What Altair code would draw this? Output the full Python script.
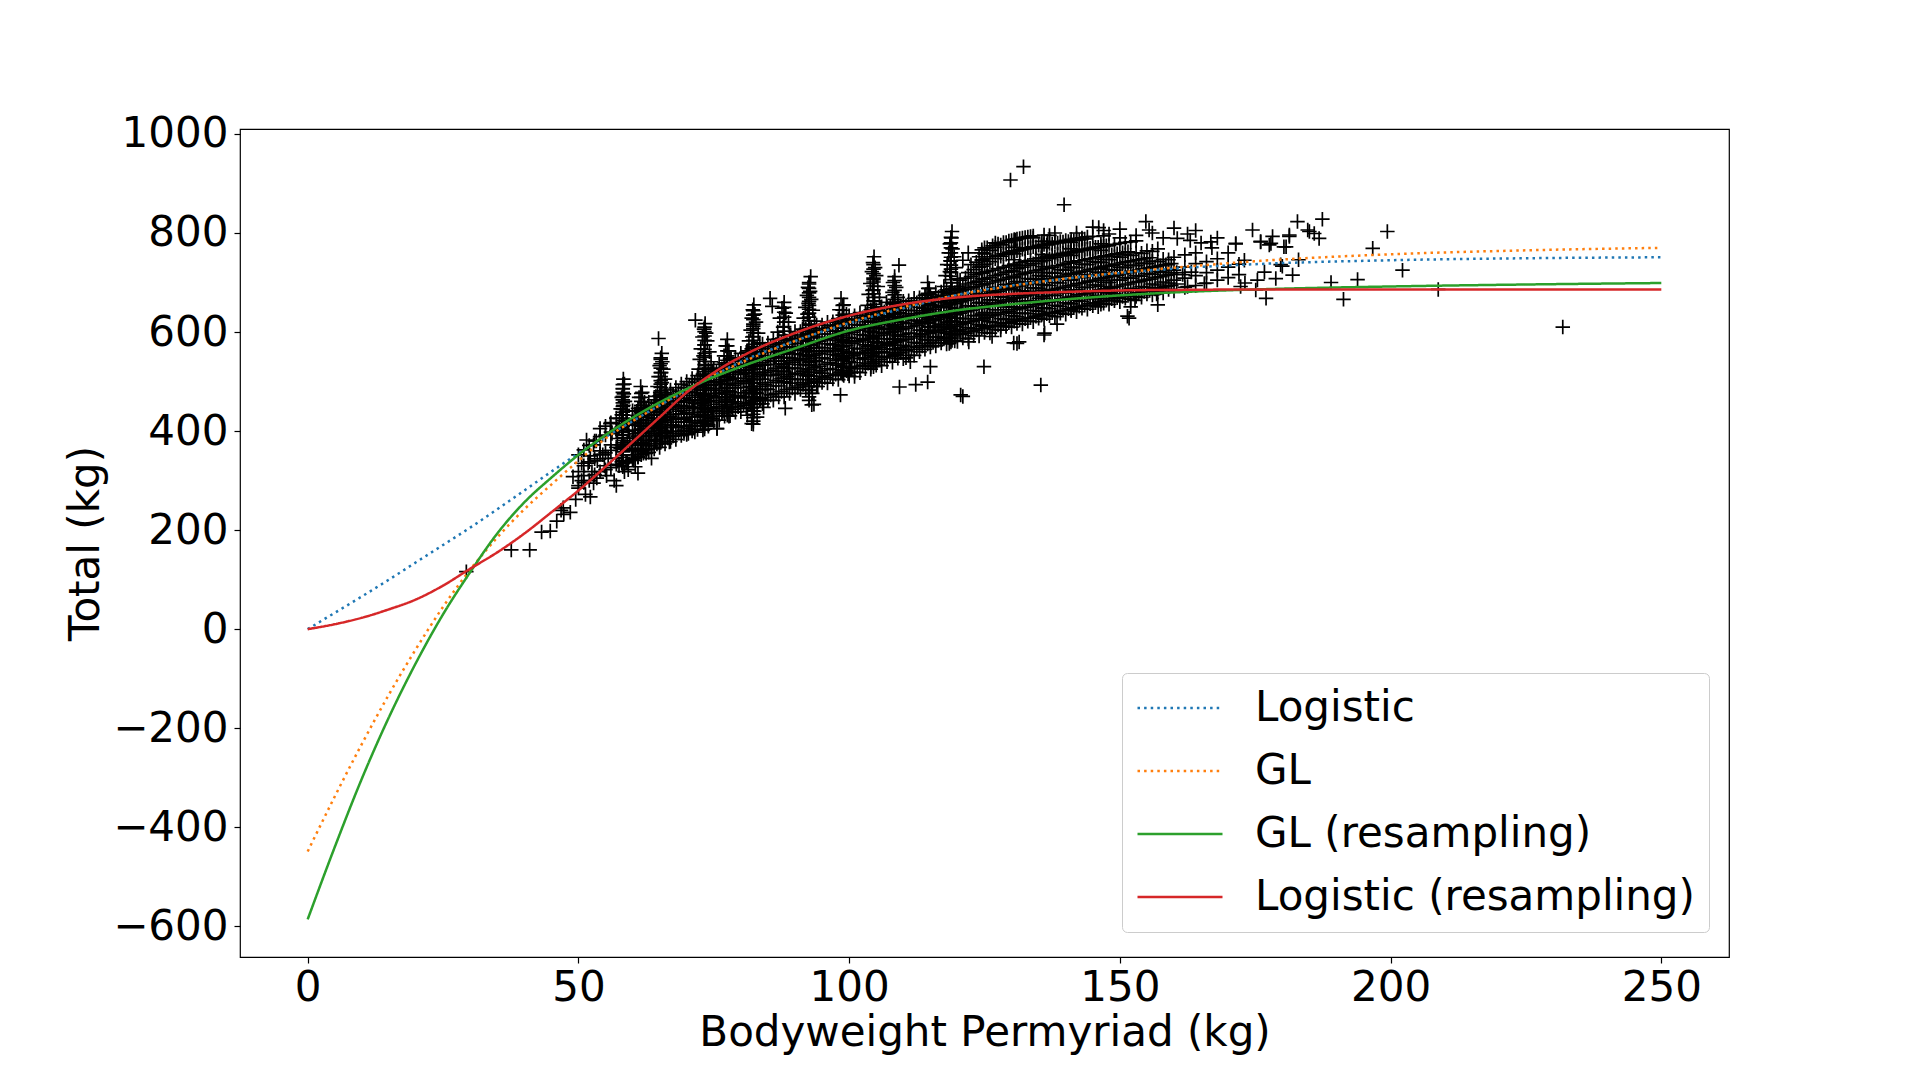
import altair as alt
import pandas as pd

# ---------------- fitted curves ----------------
CURVE_X = [0, 5, 10, 15, 20, 25, 30, 35, 40, 45, 50, 55, 60, 65, 70, 75, 80,
           90, 100, 110, 120, 130, 140, 150, 160, 175, 200, 225, 250]
LOGISTIC = [0, 33, 66, 100, 135, 170, 205, 242, 280, 318, 355, 388, 420, 452, 482, 512, 540,
            582, 618, 648, 675, 694, 708, 719, 728, 737, 745, 749, 751]
GL = [-449, -338, -232, -132, -40, 45, 120, 185, 242, 292, 340, 385, 420, 452, 484, 513, 538,
      582, 620, 650, 675, 693, 708, 720, 730, 743, 757, 765, 770]
GL_RES = [-586, -440, -302, -178, -68, 30, 115, 193, 256, 306, 352, 392, 427, 458, 485, 509, 530,
          567, 603, 626, 644, 656, 666, 674, 680, 686, 692, 696, 699]
LOG_RES = [0, 10, 23, 40, 60, 88, 122, 155, 193, 236, 280, 328, 378, 428, 478, 518, 550,
           598, 633, 656, 670, 677, 681, 684, 685, 686, 686, 686, 686]

SERIES = ["Logistic", "GL", "GL (resampling)", "Logistic (resampling)"]
COLORS = ["#1f77b4", "#ff7f0e", "#2ca02c", "#d62728"]
DASHES = [[2.5, 4.1], [2.5, 4.1], [1, 0], [1, 0]]

# ---------------- scatter points (bodyweight, total) ----------------
LOW_TAIL = [(29.3, 116), (37.6, 160), (41.0, 160), (43.2, 196), (44.8, 198), (46.0, 218),
            (46.8, 240), (47.3, 232), (48.5, 236), (47.2, 245), (49.5, 262), (50.0, 290),
            (50.6, 300), (51.0, 310), (51.3, 272), (52.2, 267), (51.8, 335), (52.2, 350),
            (52.5, 318), (52.8, 295), (53.4, 305), (49.0, 308), (52.8, 372), (53.3, 380),
            (53.5, 340), (54.0, 360), (54.5, 352), (54.8, 330), (55.2, 310), (55.5, 345),
            (56.0, 372), (56.2, 395), (55.9, 415), (51.5, 382), (50.6, 335), (56.6, 300),
            (57.0, 290), (60.2, 341), (62.0, 362)]
SPIKE_58 = [(58.3, 505), (58.5, 495), (58.2, 485), (58.4, 475), (58.0, 468), (58.6, 460),
            (58.3, 452), (57.8, 445), (58.8, 440), (58.2, 432), (57.6, 425), (59.0, 420),
            (58.4, 412), (57.5, 405), (59.2, 400), (58.1, 392), (57.2, 385), (59.5, 380),
            (58.6, 372), (57.8, 365), (59.8, 360), (58.2, 352), (57.0, 345), (60.2, 345),
            (58.8, 338), (57.5, 330), (60.5, 328), (59.2, 322), (61.0, 315), (58.5, 318)]
SPIKE_62 = [(61.5, 490), (61.8, 478), (61.2, 468), (62.2, 458), (61.6, 448), (60.8, 440),
            (62.6, 432), (61.4, 422), (60.4, 412), (62.9, 405), (61.2, 395), (60.1, 385),
            (63.2, 380), (61.7, 372), (60.0, 365), (62.5, 355), (61.0, 348), (63.5, 345)]
SPIKE_65 = [(64.8, 587), (65.4, 557), (65.2, 548), (65.5, 540), (65.0, 532), (65.7, 525),
            (65.3, 518), (64.8, 510), (66.0, 505), (65.4, 498), (64.6, 490), (66.2, 485),
            (65.1, 478), (64.3, 470), (66.5, 466), (65.5, 458), (64.2, 450), (66.8, 447),
            (65.0, 440), (64.0, 432), (67.0, 430), (65.6, 422), (63.8, 415), (67.2, 412),
            (64.8, 405), (66.3, 398), (63.5, 395), (65.5, 388), (67.5, 392), (64.2, 380),
            (66.8, 378)]
SPIKE_73 = [(71.6, 624), (73.4, 617), (73.2, 606), (73.6, 598), (72.9, 590), (73.8, 582),
            (73.3, 574), (72.6, 566), (74.2, 560), (73.1, 552), (72.4, 545), (74.5, 540),
            (73.5, 532), (72.2, 525), (74.8, 520), (73.0, 512), (72.0, 505), (75.0, 500),
            (73.6, 492), (71.8, 485), (75.3, 482), (73.2, 475), (71.5, 468), (74.5, 462),
            (72.8, 455), (71.2, 448), (75.5, 445), (73.8, 438), (72.0, 430), (74.8, 425),
            (72.6, 418), (70.8, 412), (74.0, 410), (73.0, 402), (75.6, 405), (71.5, 398)]
SPIKE_77 = [(77.5, 585), (77.2, 572), (77.8, 562), (76.9, 552), (78.2, 545), (77.3, 535),
            (76.5, 525), (78.6, 520), (77.6, 510), (76.2, 500), (79.0, 496), (77.4, 486),
            (76.0, 476), (78.8, 470), (77.1, 460), (78.3, 448), (76.7, 440), (77.8, 430),
            (79.5, 455)]
SPIKE_82 = [(85.4, 668), (85.8, 652), (82.4, 655), (82.2, 645), (82.6, 636), (82.0, 628),
            (82.8, 620), (82.3, 612), (81.8, 604), (83.2, 598), (82.1, 590), (81.5, 582),
            (83.5, 578), (82.5, 570), (81.3, 562), (83.8, 558), (82.2, 550), (81.0, 542),
            (84.0, 538), (82.6, 530), (80.8, 522), (84.3, 518), (82.0, 510), (80.5, 502),
            (83.6, 498), (81.7, 490), (84.6, 485), (82.8, 478), (80.8, 470), (83.5, 462),
            (81.8, 455), (84.2, 448), (82.5, 440), (83.6, 466), (81.2, 432), (83.0, 428),
            (82.0, 415)]
SPIKE_88 = [(88.0, 660), (87.6, 648), (88.3, 638), (87.2, 628), (88.8, 620), (87.8, 610),
            (86.8, 600), (89.2, 594), (88.1, 584), (86.5, 575), (89.6, 570), (87.9, 560),
            (86.2, 550), (89.9, 546), (87.5, 536), (88.8, 526), (86.9, 515), (89.2, 505)]
SPIKE_92 = [(92.9, 712), (92.6, 700), (92.4, 690), (92.8, 682), (92.2, 674), (93.0, 666),
            (92.5, 658), (91.9, 650), (93.3, 644), (92.3, 636), (91.6, 628), (93.6, 622),
            (92.7, 614), (91.4, 606), (93.9, 602), (92.4, 594), (91.1, 586), (94.2, 582),
            (92.9, 574), (91.3, 566), (94.5, 562), (92.2, 554), (90.8, 546), (93.8, 542),
            (92.6, 534), (91.0, 526), (94.6, 522), (92.3, 514), (93.5, 505), (91.5, 498),
            (94.2, 490), (92.5, 482), (93.2, 476), (93.1, 453), (90.5, 488), (95.0, 510)]
SPIKE_98 = [(98.5, 668), (99.0, 655), (98.2, 645), (99.5, 636), (98.8, 625), (97.8, 615),
            (100.0, 608), (98.6, 598), (97.4, 588), (100.4, 582), (98.9, 572), (97.2, 562),
            (100.8, 556), (99.1, 546), (97.6, 536), (100.2, 528), (98.5, 518), (101.0, 510)]
SPIKE_104 = [(104.6, 752), (104.4, 740), (104.8, 730), (104.2, 722), (105.0, 714), (104.5, 706),
             (103.9, 698), (105.3, 692), (104.3, 684), (103.6, 676), (105.6, 670), (104.7, 662),
             (103.4, 654), (105.9, 650), (104.2, 642), (103.1, 634), (106.2, 630), (104.6, 622),
             (102.9, 614), (105.4, 610), (103.8, 602), (106.4, 598), (104.4, 590), (102.6, 585),
             (105.2, 578), (103.5, 570), (106.0, 565), (104.2, 556), (102.8, 548), (105.0, 540),
             (104.0, 530)]
SPIKE_108 = [(109.2, 735), (108.4, 712), (108.1, 700), (108.7, 690), (108.0, 680), (109.0, 670),
             (108.3, 660), (107.6, 650), (109.4, 645), (108.2, 635), (107.2, 625), (109.8, 620),
             (108.5, 610), (107.5, 600), (110.0, 595), (108.3, 585), (107.0, 575), (109.5, 568),
             (108.6, 555), (110.5, 548)]
SPIKE_114 = [(114.5, 700), (114.8, 688), (114.2, 676), (115.2, 668), (114.6, 658), (113.8, 648),
             (115.5, 640), (114.3, 630), (113.5, 620), (115.8, 612), (114.7, 602), (113.2, 595),
             (116.0, 590)]
SPIKE_119 = [(119.0, 803), (118.9, 790), (118.6, 778), (119.1, 768), (118.4, 760), (119.4, 752),
             (118.7, 744), (118.1, 736), (119.7, 730), (118.6, 722), (117.8, 714), (120.0, 708),
             (118.9, 700), (117.5, 692), (120.3, 688), (118.5, 680), (117.2, 672), (120.6, 668),
             (118.8, 660), (117.0, 652), (120.8, 648), (118.4, 640), (116.8, 632), (119.8, 628),
             (118.2, 620), (117.4, 612), (120.5, 605), (118.9, 598), (117.6, 590), (119.5, 582),
             (118.5, 577), (116.5, 600), (121.0, 620)]

# dense cores of the weight-class columns: bodyweight -> totals
CORES = {
    58.2: [328, 334, 341, 347, 352, 358, 363, 369, 376, 381, 387, 393, 398, 404, 409, 415,
           421, 426, 432, 438, 444, 450, 457, 463, 470, 478, 486, 494],
    61.6: [352, 358, 365, 371, 377, 384, 390, 397, 403, 410, 416, 423, 430, 437, 444, 452,
           460, 468, 476],
    65.2: [378, 384, 390, 396, 402, 408, 414, 420, 426, 432, 438, 444, 450, 456, 462, 468,
           474, 481, 488, 495, 502, 510, 518, 527, 536, 545],
    69.5: [395, 402, 410, 418, 426, 434, 442, 450, 458, 466],
    73.3: [404, 410, 416, 422, 428, 434, 440, 446, 452, 458, 464, 470, 476, 482, 488, 494,
           500, 506, 513, 520, 527, 534, 541, 549, 557, 565, 574, 583, 592, 601, 610],
    77.5: [432, 439, 446, 453, 460, 467, 474, 481, 488, 495, 502, 510, 518, 526, 534, 543,
           552, 562, 572],
    82.3: [414, 420, 427, 434, 441, 448, 455, 462, 469, 476, 483, 490, 497, 504, 511, 518,
           525, 532, 539, 546, 553, 560, 567, 575, 583, 591, 599, 607, 616, 625, 634, 643],
    88.0: [500, 507, 514, 521, 528, 535, 542, 549, 556, 563, 570, 578, 586, 594, 602, 611,
           620, 630, 640, 650],
    92.6: [462, 469, 476, 483, 490, 497, 504, 511, 518, 525, 532, 539, 546, 553, 560, 567,
           574, 581, 588, 595, 602, 609, 616, 623, 630, 638, 646, 654, 662, 670, 679, 688, 697],
    98.8: [515, 522, 529, 536, 543, 550, 557, 564, 571, 578, 585, 592, 600, 608, 616, 625,
           634, 644, 654],
    104.5: [530, 537, 544, 551, 558, 565, 572, 579, 586, 593, 600, 607, 614, 621, 628, 635,
            642, 649, 656, 663, 670, 677, 685, 693, 701, 709, 718, 727, 736],
    108.4: [552, 559, 566, 573, 580, 587, 594, 601, 608, 615, 622, 629, 636, 643, 650, 658,
            666, 675, 684, 694, 704],
    114.6: [590, 597, 604, 611, 618, 625, 632, 639, 646, 653, 661, 669, 678, 688],
    118.8: [580, 587, 594, 601, 608, 615, 622, 629, 636, 643, 650, 657, 664, 671, 678, 685,
            692, 699, 706, 713, 720, 727, 735, 743, 751, 760, 770, 780, 791],
    124.5: [612, 624, 636, 648, 660, 672, 684, 696, 708, 720, 733, 746, 760],
    130.5: [626, 638, 650, 662, 674, 686, 698, 710, 722, 734, 746, 758, 771, 785],
    135.6: [636, 648, 660, 672, 684, 696, 708, 720, 732, 744, 757, 770, 783],
    141.0: [646, 658, 670, 682, 694, 706, 718, 730, 742, 755, 768, 781],
    146.5: [656, 668, 680, 692, 704, 716, 728, 740, 752, 765, 778],
}

# main band of lifters between the weight-class columns: bodyweight -> totals
BAND = {
    50: [285, 318, 352], 51: [296, 330, 362], 52: [300, 338, 371], 53: [312, 344, 380],
    54: [318, 353, 389, 405], 55: [322, 356, 392, 410], 56: [326, 361, 398, 417],
    57: [333, 367, 401, 426], 58: [338, 372, 408, 433], 59: [336, 377, 414, 440],
    60: [342, 363, 386, 402, 423, 441], 61: [347, 371, 390, 412, 430, 446],
    62: [355, 374, 397, 416, 435, 452], 63: [357, 381, 400, 421, 441, 458],
    64: [364, 383, 407, 425, 448, 463], 65: [367, 392, 410, 433, 451, 471],
    66: [374, 396, 418, 437, 459, 477], 67: [379, 400, 423, 444, 462, 483],
    68: [383, 407, 426, 449, 470, 488], 69: [391, 410, 435, 452, 476, 495],
    70: [393, 418, 437, 461, 479, 500], 71: [400, 421, 446, 463, 488, 506],
    72: [403, 429, 448, 472, 490, 512], 73: [411, 431, 457, 474, 498, 515],
    74: [413, 439, 459, 483, 502, 524], 75: [421, 441, 467, 486, 510, 527],
    76: [422, 449, 469, 494, 513, 535], 77: [430, 450, 477, 496, 521, 538],
    78: [431, 458, 479, 505, 524, 546], 79: [438, 459, 487, 507, 532, 548],
    80: [439, 467, 488, 515, 534, 557], 81: [446, 468, 496, 516, 542, 559],
    82: [447, 475, 497, 524, 544, 566], 83: [454, 476, 504, 525, 551, 569],
    84: [455, 483, 505, 533, 553, 576], 85: [462, 484, 512, 534, 560, 578],
    86: [462, 491, 513, 541, 561, 585], 87: [469, 491, 520, 541, 568, 586],
    88: [469, 498, 520, 548, 569, 593], 89: [476, 497, 527, 548, 576, 594],
    90: [476, 505, 527, 556, 577, 601], 91: [484, 504, 534, 555, 583, 601],
    92: [483, 512, 534, 563, 583, 607], 93: [491, 511, 541, 561, 590, 608],
    94: [490, 519, 540, 569, 590, 614], 95: [498, 517, 548, 568, 596, 614],
    96: [497, 526, 546, 576, 596, 620], 97: [505, 524, 555, 574, 602, 621],
    98: [504, 533, 553, 583, 602, 627], 99: [512, 531, 561, 580, 609, 627],
    100: [511, 540, 559, 589, 608, 633], 101: [519, 538, 567, 587, 615, 633],
    102: [518, 547, 566, 595, 614, 639], 103: [526, 545, 574, 593, 621, 639],
    104: [525, 553, 572, 601, 620, 645], 105: [533, 551, 580, 599, 627, 645],
    106: [532, 560, 579, 607, 626, 651], 107: [540, 558, 586, 605, 633, 651],
    108: [539, 566, 585, 613, 631, 657], 109: [547, 564, 592, 611, 639, 657],
    110: [546, 573, 591, 619, 637, 662], 111: [553, 571, 598, 617, 644, 663],
    112: [553, 579, 597, 624, 643, 668], 113: [560, 577, 604, 622, 650, 669],
    114: [565, 585, 603, 630, 648, 674], 115: [570, 583, 610, 628, 655, 675],
    116: [572, 591, 609, 636, 654, 680], 117: [578, 589, 616, 634, 661, 681],
    118: [576, 597, 615, 641, 659, 685], 119: [583, 595, 622, 640, 666, 687],
    120: [581, 603, 621, 647, 665, 691], 121: [588, 601, 627, 646, 672, 693],
    122: [586, 609, 627, 653, 671, 697, 720], 123: [593, 607, 633, 652, 678, 700, 726],
    124: [592, 615, 633, 659, 677, 703, 731, 752], 125: [599, 613, 639, 658, 684, 707, 737, 758],
    126: [598, 621, 639, 665, 683, 710, 742, 765], 127: [605, 619, 645, 664, 690, 714, 748, 771],
    128: [604, 627, 645, 671, 689, 717, 753, 776], 129: [611, 625, 651, 670, 696, 721, 757, 781],
    130: [610, 633, 651, 677, 695, 724, 761, 785], 131: [617, 631, 657, 676, 702, 728, 764, 788],
    132: [616, 638, 657, 683, 701, 731, 767, 790], 133: [622, 637, 663, 682, 708, 735, 770, 792],
    134: [621, 644, 663, 689, 707, 738, 772, 794], 135: [628, 642, 668, 688, 714, 742, 775],
    136: [626, 649, 668, 695, 713, 745, 777, 796], 137: [633, 647, 674, 694, 720, 748, 779],
    138: [631, 654, 674, 700, 719, 751, 781], 139: [638, 652, 679, 699, 726, 754, 783],
    140: [636, 659, 679, 706, 725, 757, 785], 141: [643, 657, 685, 705, 731, 760, 787],
    142: [641, 664, 685, 711, 730, 762, 789], 143: [648, 662, 690, 710, 737, 765, 790],
    144: [646, 669, 690, 716, 736, 767, 792], 145: [653, 667, 695, 715, 742, 769, 793],
    146: [651, 674, 695, 721, 741, 771], 147: [658, 672, 700, 720, 747, 773, 794],
    148: [656, 679, 700, 726, 746, 775], 149: [663, 677, 705, 725, 752, 777],
    150: [661, 683, 705, 731, 751, 779], 151: [668, 682, 710, 730, 756, 781],
    152: [666, 688, 709, 735, 755, 782], 153: [672, 686, 714, 734, 760, 784],
    154: [670, 692, 713, 739, 759], 155: [677, 690, 718, 738, 764],
    156: [675, 697, 717, 743, 763], 157: [681, 695, 722, 742, 768],
    158: [679, 701, 721, 747], 159: [686, 699, 726, 746], 160: [683, 705, 725, 751],
    162: [690, 709, 731, 756], 164: [694, 714, 738, 760], 166: [699, 720, 742],
    168: [705, 725, 748], 170: [710, 731], 172: [716, 737],
}

# the same band, lifters at half-kilogram bodyweights
BAND_HALF = {
    60.5: [352, 375, 395, 418, 432], 61.5: [360, 381, 404, 421, 440],
    62.5: [364, 388, 406, 428, 446], 63.5: [370, 391, 412, 433, 450],
    64.5: [374, 396, 418, 437, 456], 65.5: [380, 401, 422, 444, 462],
    66.5: [386, 408, 428, 449, 468], 67.5: [390, 412, 434, 454, 474],
    68.5: [396, 418, 440, 460, 480], 69.5: [400, 424, 446, 466, 487],
    70.5: [406, 428, 450, 472, 492], 71.5: [410, 434, 456, 477, 498],
    72.5: [416, 438, 461, 483, 504], 73.5: [420, 444, 466, 488, 510],
    74.5: [426, 448, 472, 493, 515], 75.5: [430, 454, 476, 498, 521],
    76.5: [436, 458, 482, 504, 526], 77.5: [440, 463, 487, 509, 531],
    78.5: [444, 468, 492, 514, 536], 79.5: [449, 472, 497, 519, 541],
    80.5: [452, 477, 501, 524, 546], 81.5: [457, 481, 506, 529, 551],
    82.5: [460, 486, 510, 534, 556], 83.5: [465, 490, 515, 538, 561],
    84.5: [468, 494, 519, 543, 566], 85.5: [473, 498, 523, 547, 570],
    86.5: [476, 502, 527, 551, 574], 87.5: [480, 506, 531, 555, 578],
    88.5: [484, 510, 535, 559, 582], 89.5: [487, 514, 539, 563, 586],
    90.5: [491, 517, 542, 567, 590], 91.5: [494, 521, 546, 571, 594],
    92.5: [498, 524, 550, 574, 597], 93.5: [501, 528, 553, 578, 600],
    94.5: [505, 531, 556, 581, 604], 95.5: [508, 535, 560, 584, 607],
    96.5: [512, 538, 563, 588, 610], 97.5: [515, 542, 567, 591, 613],
    98.5: [519, 545, 570, 594, 617], 99.5: [522, 549, 573, 597, 620],
    100.5: [526, 552, 577, 600, 623], 101.5: [530, 556, 580, 604, 626],
    102.5: [533, 559, 583, 607, 629], 103.5: [537, 562, 587, 610, 632],
    104.5: [540, 566, 590, 613, 635], 105.5: [544, 569, 593, 616, 638],
    106.5: [548, 572, 596, 619, 641], 107.5: [551, 576, 599, 622, 644],
    108.5: [555, 579, 602, 625, 647], 109.5: [558, 582, 605, 628, 650],
    110.5: [562, 585, 608, 631, 653], 111.5: [565, 588, 611, 634, 656],
    112.5: [569, 591, 614, 637, 659], 113.5: [572, 594, 617, 640, 662],
    114.5: [576, 597, 620, 643, 665], 115.5: [579, 600, 623, 646, 668],
    116.5: [583, 603, 626, 649, 671], 117.5: [586, 606, 629, 652, 674],
    118.5: [589, 609, 632, 655, 677], 119.5: [592, 612, 635, 658, 680],
    120.5: [595, 615, 638, 661, 683, 705], 121.5: [598, 618, 641, 664, 686, 709],
    122.5: [601, 621, 644, 667, 689, 712, 736], 123.5: [604, 624, 647, 670, 692, 716, 741],
    124.5: [607, 627, 650, 673, 695, 719, 745, 766], 125.5: [609, 630, 653, 676, 698, 722, 749, 770],
    126.5: [612, 633, 656, 679, 701, 725, 752, 774], 127.5: [614, 636, 659, 682, 704, 728, 755, 778],
    128.5: [617, 639, 662, 685, 707, 731, 758, 781], 129.5: [619, 642, 665, 688, 710, 734, 761, 784],
    130.5: [622, 645, 668, 691, 713, 737, 764, 787], 131.5: [624, 647, 670, 693, 716, 740, 766, 789],
    132.5: [627, 650, 673, 696, 719, 743, 768, 791], 133.5: [629, 652, 675, 698, 721, 745, 770, 793],
    134.5: [632, 655, 678, 701, 724, 748, 772], 135.5: [634, 657, 680, 703, 726, 750, 774],
    136.5: [637, 660, 683, 706, 729, 753, 776], 137.5: [639, 662, 685, 708, 731, 755, 778],
    138.5: [642, 665, 688, 711, 734, 757, 780], 139.5: [644, 667, 690, 713, 736, 759, 782],
    140.5: [647, 670, 693, 716, 739, 761, 783], 141.5: [649, 672, 695, 718, 741, 763, 785],
    142.5: [652, 675, 698, 721, 744, 765, 786], 143.5: [654, 677, 700, 723, 746, 767, 788],
    144.5: [657, 680, 703, 726, 748, 769], 145.5: [659, 682, 705, 728, 750, 771],
    146.5: [662, 685, 708, 731, 752, 772], 147.5: [664, 687, 710, 733, 754, 774],
    148.5: [667, 690, 713, 735, 756], 149.5: [669, 692, 715, 737, 758],
    150.5: [672, 695, 718, 740, 760], 151.5: [674, 697, 720, 742, 762],
    152.5: [677, 700, 723, 744], 153.5: [679, 702, 725, 746],
    154.5: [682, 705, 728, 748], 155.5: [684, 707, 730, 750],
    156.5: [687, 710, 732], 157.5: [689, 712, 734], 158.5: [692, 715, 736],
    159.5: [694, 717, 738], 160.5: [697, 720],
}

UPPER_CLOUD = [(142, 800), (145, 812), (148, 798), (150, 790), (153, 795), (156, 800),
               (158, 790), (160, 810), (163, 785), (167, 770), (170, 760), (173, 745),
               (168, 790), (165, 780), (150, 808), (147, 805), (137, 795), (134, 790),
               (127, 780), (125, 770), (122, 760), (121, 745), (138, 800), (143, 788)]

SPARSE = [(129.8, 907), (132.2, 934), (139.7, 857), (146.1, 811), (154.8, 823), (155.4, 806),
          (160.6, 789), (164.0, 805), (162.5, 798), (166.8, 782), (171.4, 778), (174.5, 806),
          (176.0, 783), (177.6, 776), (178.2, 793), (181.3, 793), (180.7, 772), (182.8, 823),
          (184.7, 806), (185.9, 799), (187.4, 828), (186.8, 789), (185.0, 803), (199.4, 803),
          (196.7, 769), (202.2, 725), (189.0, 700), (193.9, 706), (191.3, 666), (208.8, 686),
          (231.8, 610), (181.9, 715), (178.8, 708), (180.0, 733), (175.4, 705), (172.3, 692),
          (175.1, 685), (177.0, 668), (165.6, 698), (162.5, 692), (157.0, 655), (151.7, 628),
          (152.0, 651), (138.4, 616), (136.0, 594), (130.4, 578), (131.4, 580), (135.4, 493),
          (128.0, 611), (129.0, 612), (124.9, 530), (120.6, 473), (121.0, 470), (114.5, 499),
          (112.3, 494), (109.3, 489), (93.5, 454), (98.4, 473), (88.2, 446), (83.6, 466),
          (99.8, 516), (130.7, 786), (136.6, 783), (126.4, 591), (122.1, 580), (131.0, 577),
          (136.1, 598), (115.0, 530), (111.3, 540), (75.6, 405), (70.3, 395), (62.6, 362),
          (106.9, 660), (145.1, 672), (151.4, 632), (152.8, 664), (156.8, 677), (148.3, 689),
          (161.6, 716), (163.2, 721), (173.1, 699), (176.7, 721), (179.7, 736), (183.0, 746),
          (171.4, 779), (176.0, 782), (177.9, 779), (180.3, 772), (181.3, 796)]

groups = [LOW_TAIL, SPIKE_58, SPIKE_62, SPIKE_65, SPIKE_73, SPIKE_77, SPIKE_82, SPIKE_88,
          SPIKE_92, SPIKE_98, SPIKE_104, SPIKE_108, SPIKE_114, SPIKE_119, UPPER_CLOUD, SPARSE]
pts = [p for g in groups for p in g]
for table in (CORES, BAND, BAND_HALF):
    pts += [(tx, ty) for tx, ys in table.items() for ty in ys]
points_df = pd.DataFrame(pts, columns=["bw", "total"])

rows = []
for name, vals in zip(SERIES, [LOGISTIC, GL, GL_RES, LOG_RES]):
    for xv, yv in zip(CURVE_X, vals):
        rows.append({"bw": xv, "total": yv, "series": name})
curves_df = pd.DataFrame(rows)

FONT = "DejaVu Sans"
FS = 42

x_scale = alt.Scale(domain=[-12.5, 262.5], nice=False, zero=False)
y_scale = alt.Scale(domain=[-662, 1010], nice=False, zero=False)

x_axis = alt.Axis(title="Bodyweight Permyriad (kg)", values=[0, 50, 100, 150, 200, 250],
                  format="d", grid=False, domain=False, tickColor="black", tickSize=6,
                  tickWidth=1.2, labelFontSize=FS, labelFont=FONT, labelColor="black",
                  labelPadding=4, titleFontSize=FS, titleFont=FONT, titleFontWeight="normal",
                  titleColor="black", titleX=744.5, titleY=88, titleBaseline="alphabetic")
y_axis = alt.Axis(title="Total (kg)", values=[-600, -400, -200, 0, 200, 400, 600, 800, 1000],
                  format="d", labelExpr="replace(datum.label, '-', '\u2212')",
                  grid=False, domain=False, tickColor="black", tickSize=6,
                  tickWidth=1.2, labelFontSize=FS, labelFont=FONT, labelColor="black",
                  labelPadding=6, titleFontSize=FS, titleFont=FONT, titleFontWeight="normal",
                  titleColor="black", titleX=-142, titleY=414, titleAngle=-90,
                  titleBaseline="alphabetic", titleAlign="center")

PLUS = "M-1,0H1M0,-1V1"

scatter = alt.Chart(points_df).mark_point(
    shape=PLUS, filled=False, color="black", strokeWidth=1.7, size=210, opacity=1
).encode(
    x=alt.X("bw:Q", scale=x_scale, axis=x_axis),
    y=alt.Y("total:Q", scale=y_scale, axis=y_axis),
)

legend = alt.Legend(
    title=None, orient="none", legendX=882, legendY=544,
    symbolType="stroke", symbolSize=7225, symbolStrokeWidth=2.5,
    labelFontSize=FS, labelFont=FONT, labelColor="black", labelLimit=2000,
    labelOffset=31, padding=14, rowPadding=21, clipHeight=42,
    strokeColor="#cccccc", fillColor="white", cornerRadius=5,
)

lines = alt.Chart(curves_df).mark_line(strokeWidth=2.5, interpolate="monotone").encode(
    x=alt.X("bw:Q", scale=x_scale),
    y=alt.Y("total:Q", scale=y_scale),
    color=alt.Color("series:N", scale=alt.Scale(domain=SERIES, range=COLORS), legend=legend),
    strokeDash=alt.StrokeDash("series:N", scale=alt.Scale(domain=SERIES, range=DASHES),
                              legend=legend),
)

chart = alt.layer(scatter, lines).properties(
    width=1489, height=828,
    padding={"left": 232, "top": 121, "right": 183, "bottom": 110},
    autosize=alt.AutoSizeParams(type="none"),
).configure(
    font=FONT
).configure_view(
    stroke="black", strokeWidth=1.2
)

chart.save("out.html", embed_options={"renderer": "svg", "actions": False})
